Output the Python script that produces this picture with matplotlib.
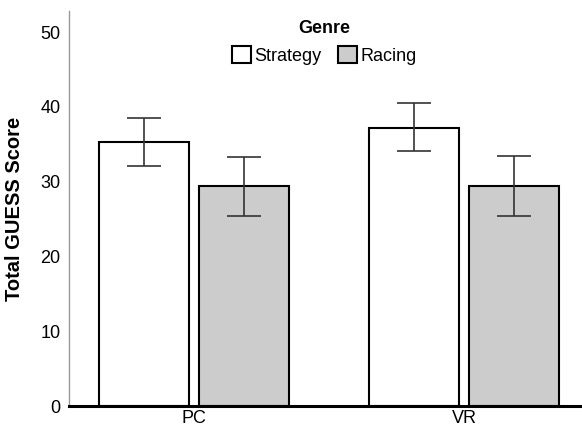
import numpy as np
import matplotlib.pyplot as plt

plt.rcParams['font.family'] = ['Liberation Sans', 'DejaVu Sans']

platforms = ["PC", "VR"]
genres = ["Strategy", "Racing"]
means = {"Strategy": [35.3, 37.2], "Racing": [29.4, 29.45]}
err_low = {"Strategy": [32.1, 34.1], "Racing": [25.4, 25.4]}
err_high = {"Strategy": [38.5, 40.5], "Racing": [33.3, 33.4]}
colors = {"Strategy": "white", "Racing": "#cccccc"}

fig = plt.figure(figsize=(5.82, 4.29), dpi=100)
ax = fig.add_axes([0.1186, 0.0536, 0.8814, 0.9204])

x = np.arange(len(platforms))
width = 0.333
offsets = [-0.185, 0.185]
for g, off in zip(genres, offsets):
    m = np.array(means[g])
    lo = m - np.array(err_low[g])
    hi = np.array(err_high[g]) - m
    ax.bar(x + off, m, width, color=colors[g], edgecolor="black", linewidth=1.5, label=g, zorder=2)
    ax.errorbar(x + off, m, yerr=[lo, hi], fmt="none", ecolor="#333333", elinewidth=1.2,
                capsize=12, capthick=1.2, zorder=3)

ax.set_xlim(-0.463, 1.437)
ax.set_ylim(0, 52.8)
ax.set_xticks(x)
ax.set_xticklabels(platforms, fontsize=13)
ax.set_yticks([0, 10, 20, 30, 40, 50])
ax.tick_params(axis="y", length=0, labelsize=13, pad=6)
ax.tick_params(axis="x", length=0, pad=3)
ax.set_ylabel("Total GUESS Score", fontsize=14.5, fontweight="bold", labelpad=12)

for s in ["top", "right"]:
    ax.spines[s].set_visible(False)
ax.spines["left"].set_color("#999999")
ax.spines["left"].set_linewidth(1)
ax.spines["bottom"].set_color("black")
ax.spines["bottom"].set_linewidth(2.2)
ax.spines["bottom"].set_zorder(4)

leg = ax.legend(title="Genre", loc="upper center", bbox_to_anchor=(0.497, 1.005), ncol=2,
                frameon=False, fontsize=13, handlelength=1.1, handleheight=1.1,
                handletextpad=0.15, columnspacing=0.9, borderaxespad=0.2)
leg.get_title().set_fontweight("bold")
leg.get_title().set_fontsize(13)

fig.savefig("out.png", dpi=100)
